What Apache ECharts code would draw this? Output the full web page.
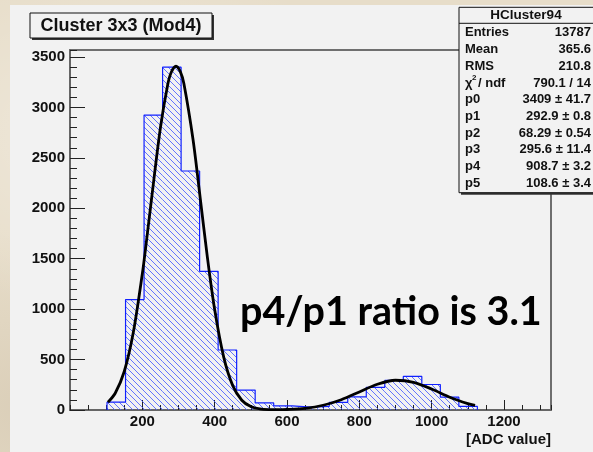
<!DOCTYPE html>
<html>
<head>
<meta charset="utf-8">
<script src="https://cdn.jsdelivr.net/npm/echarts@6/dist/echarts.min.js"></script>
<style>
  html, body { margin: 0; padding: 0; }
  body {
    width: 593px; height: 452px; overflow: hidden; position: relative;
    background: #e7ddc9;
    background-image:
      radial-gradient(ellipse at 20% 30%, rgba(255,255,255,0.35), rgba(255,255,255,0) 40%),
      radial-gradient(ellipse at 70% 80%, rgba(190,170,140,0.25), rgba(190,170,140,0) 45%),
      radial-gradient(ellipse at 5% 90%, rgba(200,185,160,0.4), rgba(200,185,160,0) 30%);
  }
  #chart {
    position: absolute; left: 10px; top: 5px; width: 583px; height: 447px;
    background: #f2f2f2;
  }
</style>
</head>
<body>
<div id="chart"></div>
<script>
// ---- data ----
const binEdges = [102.4, 153.6, 204.8, 256.0, 307.2, 358.4, 409.6, 460.8, 512.0, 563.2, 614.4,
                  665.6, 716.8, 768.0, 819.2, 870.4, 921.6, 972.8, 1024.0, 1075.2, 1126.4];
const binCounts = [78, 1095, 2925, 3400, 2370, 1375, 595, 198, 70, 40,
                   28, 35, 75, 130, 225, 293, 333, 253, 127, 35];
const fitX = [105, 125, 150, 175, 200, 210, 225, 250, 270, 280, 293, 305, 315, 340, 360, 380, 400, 425,
              450, 475, 500, 525, 550, 575, 600, 650, 700, 750, 800, 850, 900, 950, 1000, 1050, 1100, 1120];
const fitY = [77, 166, 382, 768, 1351, 1632, 2080, 2799, 3223, 3349, 3409, 3356, 3235, 2687, 2104, 1511, 996, 525,
              242, 97, 34, 11, 4, 3, 5, 17, 47, 102, 179, 255, 295, 275, 208, 127, 63, 45];
const xRange = [0, 1330];
const yRange = [0, 3570];
const titleText = 'Cluster 3x3 (Mod4)';
const xTitle = '[ADC value]';
const noteText = 'p4/p1 ratio is 3.1';
const statsName = 'HCluster94';
const statLabels = ['Entries', 'Mean', 'RMS', 'CHI', 'p0', 'p1', 'p2', 'p3', 'p4', 'p5'];
const statValues = ['13787', '365.6', '210.8', '790.1 / 14', '3409 \u00b1 41.7', '292.9 \u00b1 0.8',
                    '68.29 \u00b1 0.54', '295.6 \u00b1 11.4', '908.7 \u00b1 3.2', '108.6 \u00b1 3.4'];

// ---- build ----
const outline = [[binEdges[0], 0]];
binCounts.forEach((v, i) => { outline.push([binEdges[i], v]); outline.push([binEdges[i + 1], v]); });
outline.push([binEdges[binEdges.length - 1], 0]);
const fitData = fitX.map((x, i) => [x, fitY[i]]);

const HATCH_STEP = 6;
function hatchSegments(x0, y0, x1, y1) {
  const segs = [];
  const cMin = Math.floor((x0 - y1) / HATCH_STEP) * HATCH_STEP;
  const cMax = Math.ceil((x1 - y0) / HATCH_STEP) * HATCH_STEP;
  for (let c = cMin; c <= cMax; c += HATCH_STEP) {
    const xa = Math.max(x0, y0 + c);
    const xb = Math.min(x1, y1 + c);
    if (xb - xa > 0.3) segs.push([xa, xa - c, xb, xb - c]);
  }
  return segs;
}

const FONT = 'Liberation Sans, Arial, sans-serif';
const G = { left: 60, top: 45, width: 481, height: 360 };

const graphics = [];
graphics.push({ type: 'rect', z: 100, shape: { x: 22, y: 10, width: 182, height: 25 }, style: { fill: '#333' } });
graphics.push({ type: 'rect', z: 101, shape: { x: 20, y: 8, width: 182, height: 25 }, style: { fill: '#f2f2f2', stroke: '#111', lineWidth: 1 } });
graphics.push({ type: 'text', z: 102, x: 111, y: 21, style: { text: titleText, font: 'bold 18px ' + FONT, fill: '#111', align: 'center', verticalAlign: 'middle' } });

const SX = 449, SY = 2.3, SW = 140, SH = 185.4;
graphics.push({ type: 'rect', z: 100, shape: { x: SX + 2, y: SY + 2, width: SW, height: SH }, style: { fill: '#333' } });
graphics.push({ type: 'rect', z: 101, shape: { x: SX, y: SY, width: SW, height: SH }, style: { fill: '#f2f2f2', stroke: '#111', lineWidth: 1 } });
graphics.push({ type: 'line', z: 102, shape: { x1: SX, y1: 18.3, x2: SX + SW, y2: 18.3 }, style: { stroke: '#111', lineWidth: 1 } });
graphics.push({ type: 'text', z: 102, x: 516, y: 10.5, style: { text: statsName, font: 'bold 13.5px ' + FONT, fill: '#111', align: 'center', verticalAlign: 'middle' } });
statLabels.forEach((lab, i) => {
  const y = 27.8 + 16.72 * i;
  if (lab === 'CHI') {
    graphics.push({ type: 'text', z: 102, x: 455, y: y, style: { text: '\u03c7', font: 'bold 13px ' + FONT, fill: '#111', align: 'left', verticalAlign: 'middle' } });
    graphics.push({ type: 'text', z: 102, x: 462, y: y - 5, style: { text: '2', font: 'bold 8px ' + FONT, fill: '#111', align: 'left', verticalAlign: 'middle' } });
    graphics.push({ type: 'text', z: 102, x: 468, y: y, style: { text: '/ ndf', font: 'bold 13px ' + FONT, fill: '#111', align: 'left', verticalAlign: 'middle' } });
  } else {
    graphics.push({ type: 'text', z: 102, x: 455, y: y, style: { text: lab, font: 'bold 13px ' + FONT, fill: '#111', align: 'left', verticalAlign: 'middle' } });
  }
  graphics.push({ type: 'text', z: 102, x: 581, y: y, style: { text: statValues[i], font: 'bold 13px ' + FONT, fill: '#111', align: 'right', verticalAlign: 'middle' } });
});
graphics.push({ type: 'text', z: 102, x: 541, y: 435, style: { text: xTitle, font: 'bold 15px ' + FONT, fill: '#111', align: 'right', verticalAlign: 'middle' } });
graphics.push({ type: 'text', z: 102, x: 230, y: 307, style: { text: noteText, font: 'bold 39.5px Lato, "Open Sans", sans-serif', fill: '#000', align: 'left', verticalAlign: 'middle' } });

const axisLabelStyle = { color: '#111', fontWeight: 'bold', fontSize: 15, fontFamily: FONT, formatter: v => String(v) };

const chart = echarts.init(document.getElementById('chart'), null, { renderer: 'canvas' });
chart.setOption({
  animation: false,
  backgroundColor: 'transparent',
  grid: Object.assign({ show: true, borderColor: '#444', borderWidth: 1.5, backgroundColor: 'transparent' }, G),
  xAxis: [
    { type: 'value', min: xRange[0], max: xRange[1], interval: 200, position: 'bottom',
      axisLine: { show: true, lineStyle: { color: '#666', width: 2 } },
      axisTick: { show: true, inside: true, length: 10, lineStyle: { color: '#222', width: 1 } },
      axisLabel: Object.assign({ margin: 4, showMinLabel: false, showMaxLabel: false }, axisLabelStyle),
      splitLine: { show: false } },
    { type: 'value', min: xRange[0], max: xRange[1], interval: 50, position: 'bottom',
      axisLine: { show: false },
      axisTick: { show: true, inside: true, length: 5, lineStyle: { color: '#222', width: 1 } },
      axisLabel: { show: false }, splitLine: { show: false } }
  ],
  yAxis: [
    { type: 'value', min: yRange[0], max: yRange[1], interval: 500, position: 'left',
      axisLine: { show: true, lineStyle: { color: '#666', width: 2 } },
      axisTick: { show: true, inside: true, length: 15, lineStyle: { color: '#222', width: 1 } },
      axisLabel: Object.assign({ margin: 5, showMaxLabel: false }, axisLabelStyle),
      splitLine: { show: false } },
    { type: 'value', min: yRange[0], max: yRange[1], interval: 100, position: 'left',
      axisLine: { show: false },
      axisTick: { show: true, inside: true, length: 7, lineStyle: { color: '#222', width: 1 } },
      axisLabel: { show: false }, splitLine: { show: false } }
  ],
  series: [
    { type: 'line', xAxisIndex: 0, yAxisIndex: 0, data: outline, showSymbol: false, symbol: 'none', z: 3,
      lineStyle: { color: '#1020ff', width: 1.2 } },
    { type: 'line', xAxisIndex: 0, yAxisIndex: 0, data: fitData, showSymbol: false, symbol: 'none', z: 4,
      smooth: 0.3, lineStyle: { color: '#000', width: 2.8 } }
  ]
});

// hatch fill of each bin, positioned through the chart's own axis scales
const hatchEls = [];
binCounts.forEach((v, i) => {
  const p0 = chart.convertToPixel({ xAxisIndex: 0, yAxisIndex: 0 }, [binEdges[i], v]);
  const p1 = chart.convertToPixel({ xAxisIndex: 0, yAxisIndex: 0 }, [binEdges[i + 1], 0]);
  hatchSegments(p0[0], p0[1], p1[0], p1[1]).forEach(s => {
    hatchEls.push({ type: 'line', z: 1, silent: true,
      shape: { x1: s[0], y1: s[1], x2: s[2], y2: s[3] },
      style: { stroke: '#4458ff', lineWidth: 1, opacity: 0.82 } });
  });
});

chart.setOption({ graphic: { elements: hatchEls.concat(graphics) } });
</script>
</body>
</html>
